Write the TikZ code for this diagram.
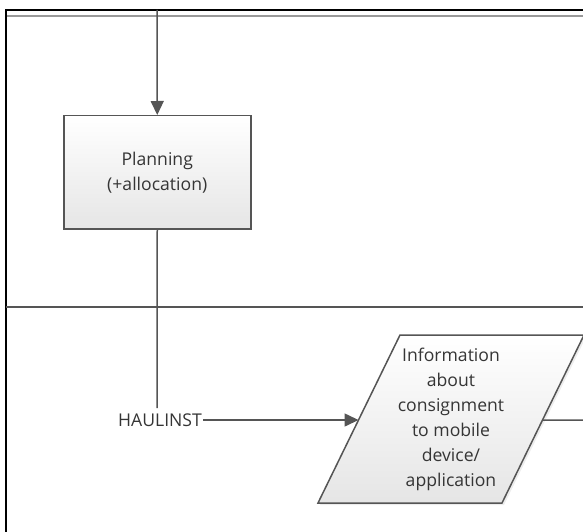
\documentclass[tikz,border=0pt]{standalone}
\usepackage{fontspec}
\setmainfont{Open Sans}
\usetikzlibrary{arrows.meta,calc,shadows}
\definecolor{linegray}{HTML}{555555}
\definecolor{textgray}{HTML}{353535}
\begin{document}
\begin{tikzpicture}[x=1pt,y=-1pt,
  flow/.style={draw=linegray,line width=1.5pt},
  arr/.style={flow,-{Triangle[length=14pt,width=13pt]}},
  procbox/.style={draw=linegray,line width=1.5pt,top color=white,bottom color=black!10,
    drop shadow={shadow xshift=1.5pt,shadow yshift=-1.5pt,opacity=0.15}},
  lbl/.style={text=textgray,font=\fontsize{17.6}{25}\selectfont,align=center,inner sep=1pt}]
  \useasboundingbox (0,0) rectangle (583,532);
  % frame of the lanes
  \draw[black!40,line width=1.6pt] (7,16) -- (583,16);
  \draw[black,line width=2.2pt] (6,532) -- (6,10) -- (583,10);
  \draw[flow] (6,307) -- (583,307);
  % planning step
  \node[procbox,minimum width=187pt,minimum height=113pt,anchor=north west] (plan) at (63,115) {};
  \node[lbl] (plantext) at (plan.center) {Planning\\(+allocation)};
  % data output shape
  \coordinate (ptl) at (400,335);
  \coordinate (ptr) at (584,335);
  \coordinate (pbr) at (502,503);
  \coordinate (pbl) at (318,503);
  \fill[black!20,opacity=0.35] ($(ptl)+(2,2)$) -- ($(ptr)+(2,2)$) -- ($(pbr)+(2,2)$) -- ($(pbl)+(2,2)$) -- cycle;
  \shade[top color=white,bottom color=black!10] (ptl) -- (ptr) -- (pbr) -- (pbl) -- cycle;
  \draw[flow,line join=miter] (ptl) -- (ptr) -- (pbr) -- (pbl) -- cycle;
  \coordinate (pin) at ($(ptl)!0.506!(pbl)$);
  \coordinate (pout) at ($(ptr)!0.506!(pbr)$);
  \node[lbl] (info) at (451,419) {Information\\about\\consignment\\to mobile\\device/\\application};
  % connectors
  \coordinate (top) at (157,10);
  \coordinate (drop) at (157,408);
  \coordinate (exit) at (583,420);
  \node[lbl,anchor=center] (haul) at (160,420) {HAULINST};
  \draw[arr] (top) -- (plan.north);
  \draw[flow] (plan.south) -- (drop);
  \draw[arr] (haul.east) -- (haul.east -| pin);
  \draw[flow] (pout) -- (exit);
\end{tikzpicture}
\end{document}
